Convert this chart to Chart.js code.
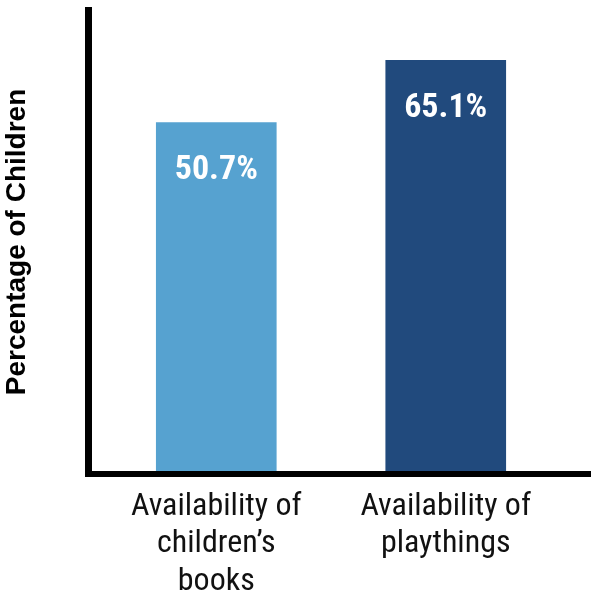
<!DOCTYPE html>
<html>
<head>
<meta charset="utf-8">
<script src="https://cdn.jsdelivr.net/npm/chart.js@4"></script>
<style>
  html, body { margin: 0; padding: 0; background: #ffffff; }
  #wrap { width: 591px; height: 596px; }
</style>
</head>
<body>
<div id="wrap"><canvas id="availChart"></canvas></div>
<script>
const categories = [
    ['Availability of', 'children\u2019s', 'books'],
    ['Availability of', 'playthings']
];
const values = [50.7, 65.1];
const barColors = ['#56A2D0', '#214A7D'];
const yTitle = 'Percentage of Children';

const narrowFont = '"Roboto Condensed", Roboto, sans-serif';
const yMin = -30.8;
const yMax = 76.8;

// white percentage labels inside the top of each bar
const barValueLabels = {
    id: 'barValueLabels',
    afterDatasetsDraw(chart) {
        const ctx = chart.ctx;
        const meta = chart.getDatasetMeta(0);
        ctx.save();
        ctx.fillStyle = '#ffffff';
        ctx.font = 'bold 34px ' + narrowFont;
        ctx.textAlign = 'center';
        ctx.textBaseline = 'middle';
        meta.data.forEach((bar, i) => {
            ctx.fillText(values[i].toFixed(1) + '%', bar.x, bar.y + 48);
        });
        ctx.restore();
    }
};

const ctx = document.getElementById('availChart').getContext('2d');
new Chart(ctx, {
    type: 'bar',
    data: {
        datasets: [{
            data: values.map((v, i) => ({ x: i, y: v })),
            backgroundColor: barColors,
            base: yMin,
            barThickness: 120
        }]
    },
    options: {
        responsive: true,
        maintainAspectRatio: false,
        animation: false,
        layout: { padding: { top: 10, right: 0, left: 0, bottom: 0 } },
        scales: {
            x: {
                type: 'linear',
                offset: false,
                min: -0.559,
                max: 1.633,
                grid: { display: false, drawTicks: false, offset: false },
                border: { display: true, color: '#000000', width: 6, z: 1 },
                afterBuildTicks: (scale) => {
                    scale.ticks = categories.map((c, i) => ({ value: i }));
                },
                afterFit: (scale) => { scale.height = 122; },
                ticks: {
                    color: '#111111',
                    padding: 14,
                    font: { family: narrowFont, size: 32, lineHeight: 1.17 },
                    callback: (value) => categories[value]
                }
            },
            y: {
                min: yMin,
                max: yMax,
                grid: { display: false, drawTicks: false },
                border: { display: true, color: '#000000', width: 7, z: 1 },
                ticks: { display: false },
                afterFit: (scale) => { scale.width = 88; },
                title: {
                    display: true,
                    text: yTitle,
                    color: '#000000',
                    padding: 0,
                    font: { family: '"Liberation Sans", Arial, sans-serif', size: 28, weight: 'bold' }
                }
            }
        },
        plugins: {
            legend: { display: false },
            tooltip: { enabled: false }
        }
    },
    plugins: [barValueLabels]
});
</script>
</body>
</html>
